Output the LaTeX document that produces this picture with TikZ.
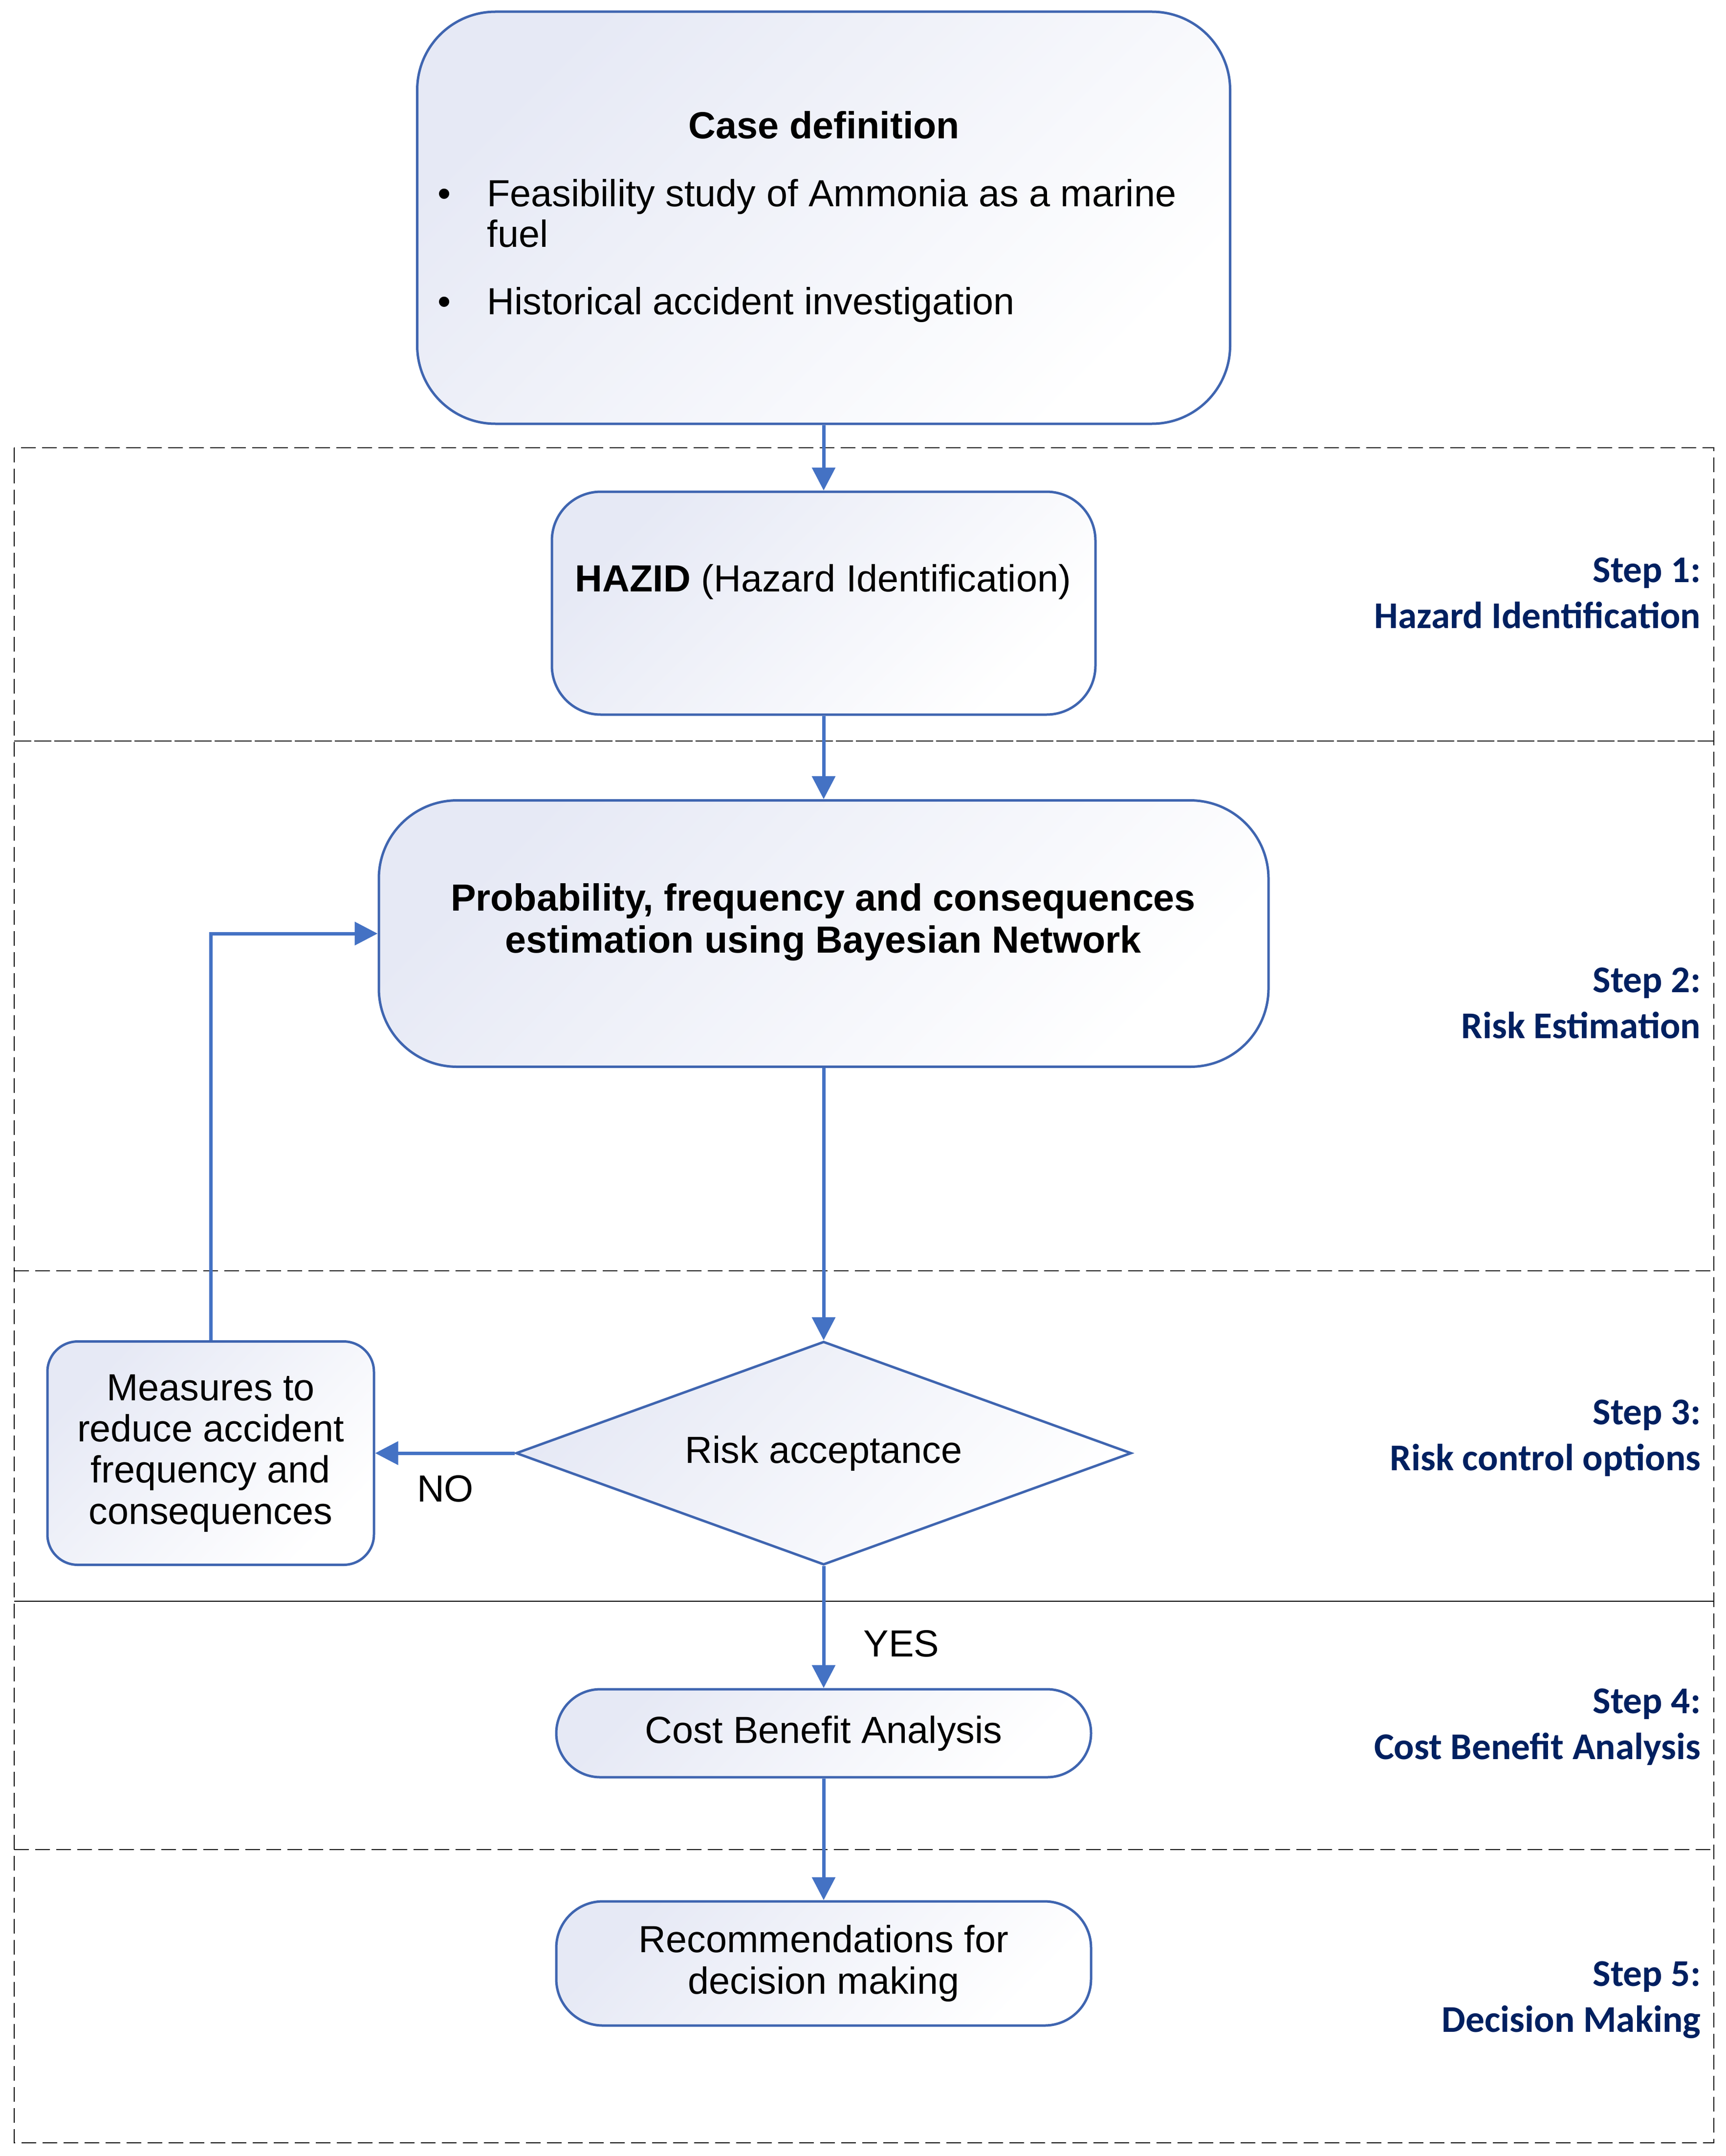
\documentclass[tikz,border=0pt]{standalone}
\usepackage{fontspec}
\setmainfont{Liberation Sans}
\newfontfamily\stepfont{Carlito}
\usepackage{tikz}
\usetikzlibrary{positioning}
\usetikzlibrary{shapes.geometric}
\usetikzlibrary{arrows.meta}
\usepackage{xcolor}

\definecolor{boxLine}{HTML}{3F65B0}
\definecolor{arrowBlue}{HTML}{4472C4}
\definecolor{boxTint}{HTML}{E6E9F5}
\definecolor{stepNavy}{HTML}{002060}

\begin{document}
\begin{tikzpicture}

\tikzset
  {
    myBox/.style=    {draw=boxLine, line width=0.05cm, top color=boxTint, bottom color=white, shading angle=45, inner sep=0pt, align=center, font=\fontsize{22pt}{24pt}\selectfont},
    myText/.style=   {inner sep=0pt, align=center, font=\fontsize{22pt}{24pt}\selectfont},
    myArrow/.style=  {arrowBlue, line width=0.07cm, -{Triangle[length=0.47cm, width=0.47cm]}},
    myLane/.style=   {black, line width=0.025cm, dash pattern=on 0.3cm off 0.13cm},
    myStep/.style=   {stepNavy, inner sep=0pt, align=right, anchor=base east, font=\stepfont\bfseries\fontsize{22pt}{26.5pt}\selectfont}
  }

\useasboundingbox (0,0) rectangle (35.30,-44.11);

% lanes
{
\draw[myLane] (0.29,-9.16) rectangle (35.06,-43.84);
\draw[myLane, dash pattern=on 0.35cm off 0.06cm] (0.29,-15.16)--(35.06,-15.16);
\draw[myLane] (0.29,-26.00)--(35.06,-26.00);
\draw[black, line width=0.025cm] (0.29,-32.76)--(35.06,-32.76);
\draw[myLane] (0.29,-37.84)--(35.06,-37.84);
}

% boxes
{
\node[myBox, minimum width=16.63cm, minimum height=8.43cm, rounded corners=1.6cm] (case) at (16.85,-4.455) {};
\node[myText, anchor=base, font=\bfseries\fontsize{22pt}{24pt}\selectfont] (caseHead) at (16.86,-2.84) {Case definition};
\node[myText, anchor=base west, align=left, font=\fontsize{22pt}{23.6pt}\selectfont] (caseList) at (8.95,-6.43)
{\makebox[1.01cm][l]{\textbullet}Feasibility study of Ammonia as a marine\\
\hspace*{1.01cm}fuel\\[0.55cm]
\makebox[1.01cm][l]{\textbullet}Historical accident investigation};

\node[myBox, minimum width=11.12cm, minimum height=4.56cm, rounded corners=1cm] (hazid) at (16.85,-12.34) {};
\node[myText, anchor=base] (hazidText) at (16.84,-12.10) {\textbf{HAZID} (Hazard Identification)};

\node[myBox, minimum width=18.20cm, minimum height=5.45cm, rounded corners=1.6cm] (prob) at (16.85,-19.10) {};
\node[myText, anchor=base, font=\bfseries\fontsize{22pt}{24.4pt}\selectfont] (probText) at (16.84,-19.49)
{Probability, frequency and consequences\\estimation using Bayesian Network};

\node[myBox, diamond, aspect=2.75, minimum width=12.59cm, minimum height=4.57cm] (risk) at (16.85,-29.73) {Risk acceptance};

\node[myBox, minimum width=6.68cm, minimum height=4.57cm, rounded corners=0.62cm] (measures) at (4.31,-29.73)
{Measures to\\reduce accident\\frequency and\\consequences};

\node[myBox, minimum width=10.94cm, minimum height=1.80cm, rounded corners=0.9cm] (cost) at (16.85,-35.46) {Cost Benefit Analysis};

\node[myBox, minimum width=10.94cm, minimum height=2.54cm, rounded corners=0.95cm] (recom) at (16.85,-40.17) {Recommendations for\\decision making};
}

% arrows
{
\draw[myArrow] (case.south)--(hazid.north);
\draw[myArrow] (hazid.south)--(prob.north);
\draw[myArrow] (prob.south)--(risk.north);
\draw[myArrow] (risk.west)--(measures.east);
\draw[myArrow] (measures.north)|-(prob.west);
\draw[myArrow] (risk.south)--(cost.north);
\draw[myArrow] (cost.south)--(recom.north);

\node[myText] (noLabel) at (9.11,-30.46) {NO};
\node[myText] (yesLabel) at (18.44,-33.63) {YES};
}

% steps
{
\foreach \n/\y/\t in {1/12.85/Hazard Identification, 2/21.24/Risk Estimation, 3/30.08/Risk control options, 4/35.99/Cost Benefit Analysis, 5/41.57/Decision Making}
\node[myStep] (step\n) at (34.80,-\y) {Step \n:\\\t};
}

\end{tikzpicture}
\end{document}
